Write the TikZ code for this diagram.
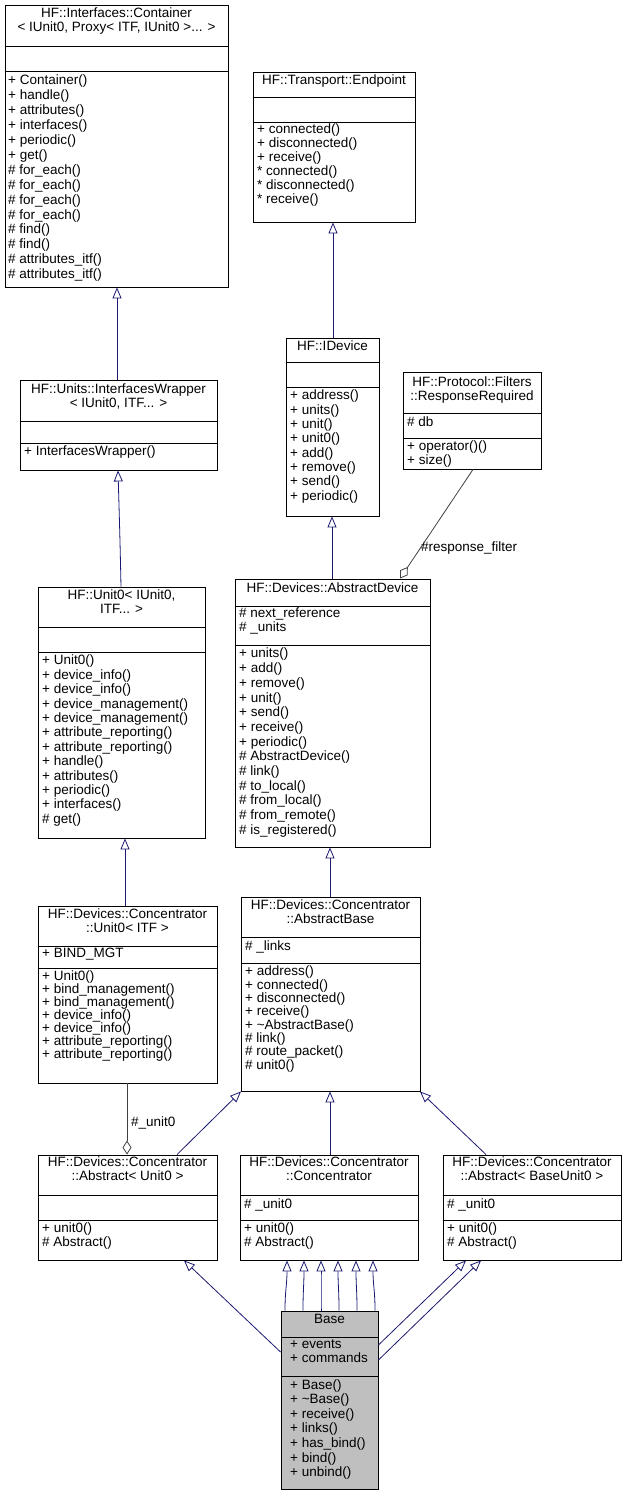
\documentclass[tikz,border=0pt]{standalone}
\usepackage{fontspec}
\setmainfont{Liberation Sans}
\usetikzlibrary{arrows.meta,fit}
\definecolor{edge}{HTML}{191970}
\definecolor{agg}{HTML}{404040}
\definecolor{basefill}{HTML}{BFBFBF}
\tikzset{
  box/.style={draw=black, line width=0.9pt, inner sep=0pt},
  txt/.style={anchor=north west, inner sep=0pt, align=left, font=\fontsize{13.5}{14}\selectfont},
  ttl/.style={anchor=north, inner sep=0pt, align=center, font=\fontsize{13.5}{14}\selectfont},
  inh/.style={draw=edge, line width=0.8pt, -{Triangle[open,length=11pt,width=9pt]}},
  aggr/.style={draw=agg, line width=0.8pt, -{Diamond[open,length=14pt,width=9pt]}},
  lbl/.style={inner sep=0pt, font=\fontsize{13.5}{14}\selectfont}
}
\newcommand{\umlbox}[6]{\node[box,fill=#6,fit={(#2,#3)(#4,#5)}] (#1) {};}
\newcommand{\umlsep}[2]{\draw[line width=0.9pt] (#1.west |- 0,#2) -- (#1.east |- 0,#2);}
\begin{document}
\begin{tikzpicture}[x=1pt,y=-1pt]
\useasboundingbox (0,0) rectangle (627,1496);
% Container
\umlbox{cont}{5}{5}{228}{287}{white}
\umlsep{cont}{46}\umlsep{cont}{71}
\node[ttl] (contT) at (116.5,8) {HF::Interfaces::Container\\< IUnit0, Proxy< ITF, IUnit0 >... >};
\node[txt,font=\fontsize{13.5}{14.9}\selectfont] (contI) at (8,75) {+ Container()\\+ handle()\\+ attributes()\\+ interfaces()\\+ periodic()\\+ get()\\\# for\_each()\\\# for\_each()\\\# for\_each()\\\# for\_each()\\\# find()\\\# find()\\\# attributes\_itf()\\\# attributes\_itf()};
% Endpoint
\umlbox{endp}{253}{72}{415}{222}{white}
\umlsep{endp}{97}\umlsep{endp}{122}
\node[ttl] (endpT) at (334,75) {HF::Transport::Endpoint};
\node[txt] (endpI) at (257,124) {+ connected()\\+ disconnected()\\+ receive()\\* connected()\\* disconnected()\\* receive()};
% InterfacesWrapper
\umlbox{iw}{20}{380}{217}{470}{white}
\umlsep{iw}{421}\umlsep{iw}{443}
\node[ttl] (iwT) at (118.5,384) {HF::Units::InterfacesWrapper\\< IUnit0, ITF... >};
\node[txt] (iwI) at (24,446) {+ InterfacesWrapper()};
% IDevice
\umlbox{idev}{286}{338}{379}{516}{white}
\umlsep{idev}{362}\umlsep{idev}{387}
\node[ttl] (idevT) at (332.5,341) {HF::IDevice};
\node[txt,font=\fontsize{13.5}{14.3}\selectfont] (idevI) at (290,390) {+ address()\\+ units()\\+ unit()\\+ unit0()\\+ add()\\+ remove()\\+ send()\\+ periodic()};
% ResponseRequired
\umlbox{resp}{403}{372}{541}{469}{white}
\umlsep{resp}{413}\umlsep{resp}{438}
\node[ttl] (respT) at (472,377) {HF::Protocol::Filters\\::ResponseRequired};
\node[txt] (respA) at (407,417) {\# db};
\node[txt] (respI) at (407,441) {+ operator()()\\+ size()};
% Unit0
\umlbox{unit}{38}{587}{205}{838}{white}
\umlsep{unit}{627}\umlsep{unit}{652}
\node[ttl] (unitT) at (121.5,590) {HF::Unit0< IUnit0,\\ITF... >};
\node[txt,font=\fontsize{13.5}{14.4}\selectfont] (unitI) at (42,655) {+ Unit0()\\+ device\_info()\\+ device\_info()\\+ device\_management()\\+ device\_management()\\+ attribute\_reporting()\\+ attribute\_reporting()\\+ handle()\\+ attributes()\\+ periodic()\\+ interfaces()\\\# get()};
% AbstractDevice
\umlbox{adev}{235}{579}{430}{847}{white}
\umlsep{adev}{606}\umlsep{adev}{645}
\node[ttl] (adevT) at (332.5,583) {HF::Devices::AbstractDevice};
\node[txt] (adevA) at (239,608) {\# next\_reference\\\# \_units};
\node[txt,font=\fontsize{13.5}{14.7}\selectfont] (adevI) at (239,648) {+ units()\\+ add()\\+ remove()\\+ unit()\\+ send()\\+ receive()\\+ periodic()\\\# AbstractDevice()\\\# link()\\\# to\_local()\\\# from\_local()\\\# from\_remote()\\\# is\_registered()};
% Concentrator::Unit0
\umlbox{cu}{38}{906}{217}{1083}{white}
\umlsep{cu}{946}\umlsep{cu}{968}
\node[ttl] (cuT) at (127.5,909) {HF::Devices::Concentrator\\::Unit0< ITF >};
\node[txt] (cuA) at (42,948) {+ BIND\_MGT};
\node[txt,font=\fontsize{13.5}{12.9}\selectfont] (cuI) at (42,971) {+ Unit0()\\+ bind\_management()\\+ bind\_management()\\+ device\_info()\\+ device\_info()\\+ attribute\_reporting()\\+ attribute\_reporting()};
% AbstractBase
\umlbox{ab}{241}{897}{420}{1091}{white}
\umlsep{ab}{937}\umlsep{ab}{963}
\node[ttl] (abT) at (330.5,900) {HF::Devices::Concentrator\\::AbstractBase};
\node[txt] (abA) at (245,941) {\# \_links};
\node[txt,font=\fontsize{13.5}{13.3}\selectfont] (abI) at (245,966) {+ address()\\+ connected()\\+ disconnected()\\+ receive()\\+ \textasciitilde AbstractBase()\\\# link()\\\# route\_packet()\\\# unit0()};
% Abstract<Unit0>
\umlbox{au}{38}{1155}{217}{1260}{white}
\umlsep{au}{1195}\umlsep{au}{1220}
\node[ttl] (auT) at (127.5,1157) {HF::Devices::Concentrator\\::Abstract< Unit0 >};
\node[txt] (auI) at (42,1223) {+ unit0()\\\# Abstract()};
% Concentrator
\umlbox{cc}{240}{1155}{418}{1260}{white}
\umlsep{cc}{1195}\umlsep{cc}{1220}
\node[ttl] (ccT) at (329,1157) {HF::Devices::Concentrator\\::Concentrator};
\node[txt] (ccA) at (244,1199) {\# \_unit0};
\node[txt] (ccI) at (244,1223) {+ unit0()\\\# Abstract()};
% Abstract<BaseUnit0>
\umlbox{abu}{443}{1155}{621}{1260}{white}
\umlsep{abu}{1195}\umlsep{abu}{1220}
\node[ttl] (abuT) at (532,1157) {HF::Devices::Concentrator\\::Abstract< BaseUnit0 >};
\node[txt] (abuA) at (447,1199) {\# \_unit0};
\node[txt] (abuI) at (447,1223) {+ unit0()\\\# Abstract()};
% Base
\umlbox{base}{281}{1311}{378}{1489}{basefill}
\umlsep{base}{1337}\umlsep{base}{1376}
\node[ttl] (baseT) at (329.5,1314) {Base};
\node[txt,font=\fontsize{13.5}{13.5}\selectfont] (baseA) at (290,1340) {+ events\\+ commands};
\node[txt,font=\fontsize{13.5}{14.6}\selectfont] (baseI) at (290,1379) {+ Base()\\+ \textasciitilde Base()\\+ receive()\\+ links()\\+ has\_bind()\\+ bind()\\+ unbind()};
% edges
\draw[inh] (iw.north -| 117,0) -- (cont.south -| 117,0);
\draw[inh] (idev.north -| 333,0) -- (endp.south -| 333,0);
\draw[inh] (unit.north -| 121,0) .. controls (120,540) .. (iw.south -| 118,0);
\draw[inh] (adev.north -| 332,0) -- (idev.south -| 332,0);
\draw[aggr] (resp.south -| 473,0) -- (adev.north -| 400,0);
\node[lbl,anchor=west] (rfl) at (421,548) {\#response\_filter};
\draw[inh] (cu.north -| 125,0) -- (unit.south -| 125,0);
\draw[inh] (ab.north -| 330,0) -- (adev.south -| 330,0);
\draw[aggr] (cu.south -| 127,0) -- (au.north -| 127,0);
\node[lbl,anchor=west] (ul) at (131,1123) {\#\_unit0};
\draw[inh] (au.north -| 177,0) -- (ab.south -| 241,0);
\draw[inh] (cc.north -| 330,0) -- (ab.south -| 330,0);
\draw[inh] (abu.north -| 486,0) -- (ab.south -| 420,0);
\draw[inh] (base.west |- 0,1352) -- (au.south -| 184,0);
\foreach \i/\a/\b in {1/285/287,2/303/304,3/321/321,4/339/338,5/357/356,6/375/373}{
  \draw[inh] (base.north -| \a,0) .. controls (\a,1290) and (\b,1285) .. (cc.south -| \b,0);
}
\draw[inh] (base.east |- 0,1345) -- (abu.south -| 466,0);
\draw[inh] (base.east |- 0,1360) -- (abu.south -| 481,0);
\end{tikzpicture}
\end{document}
